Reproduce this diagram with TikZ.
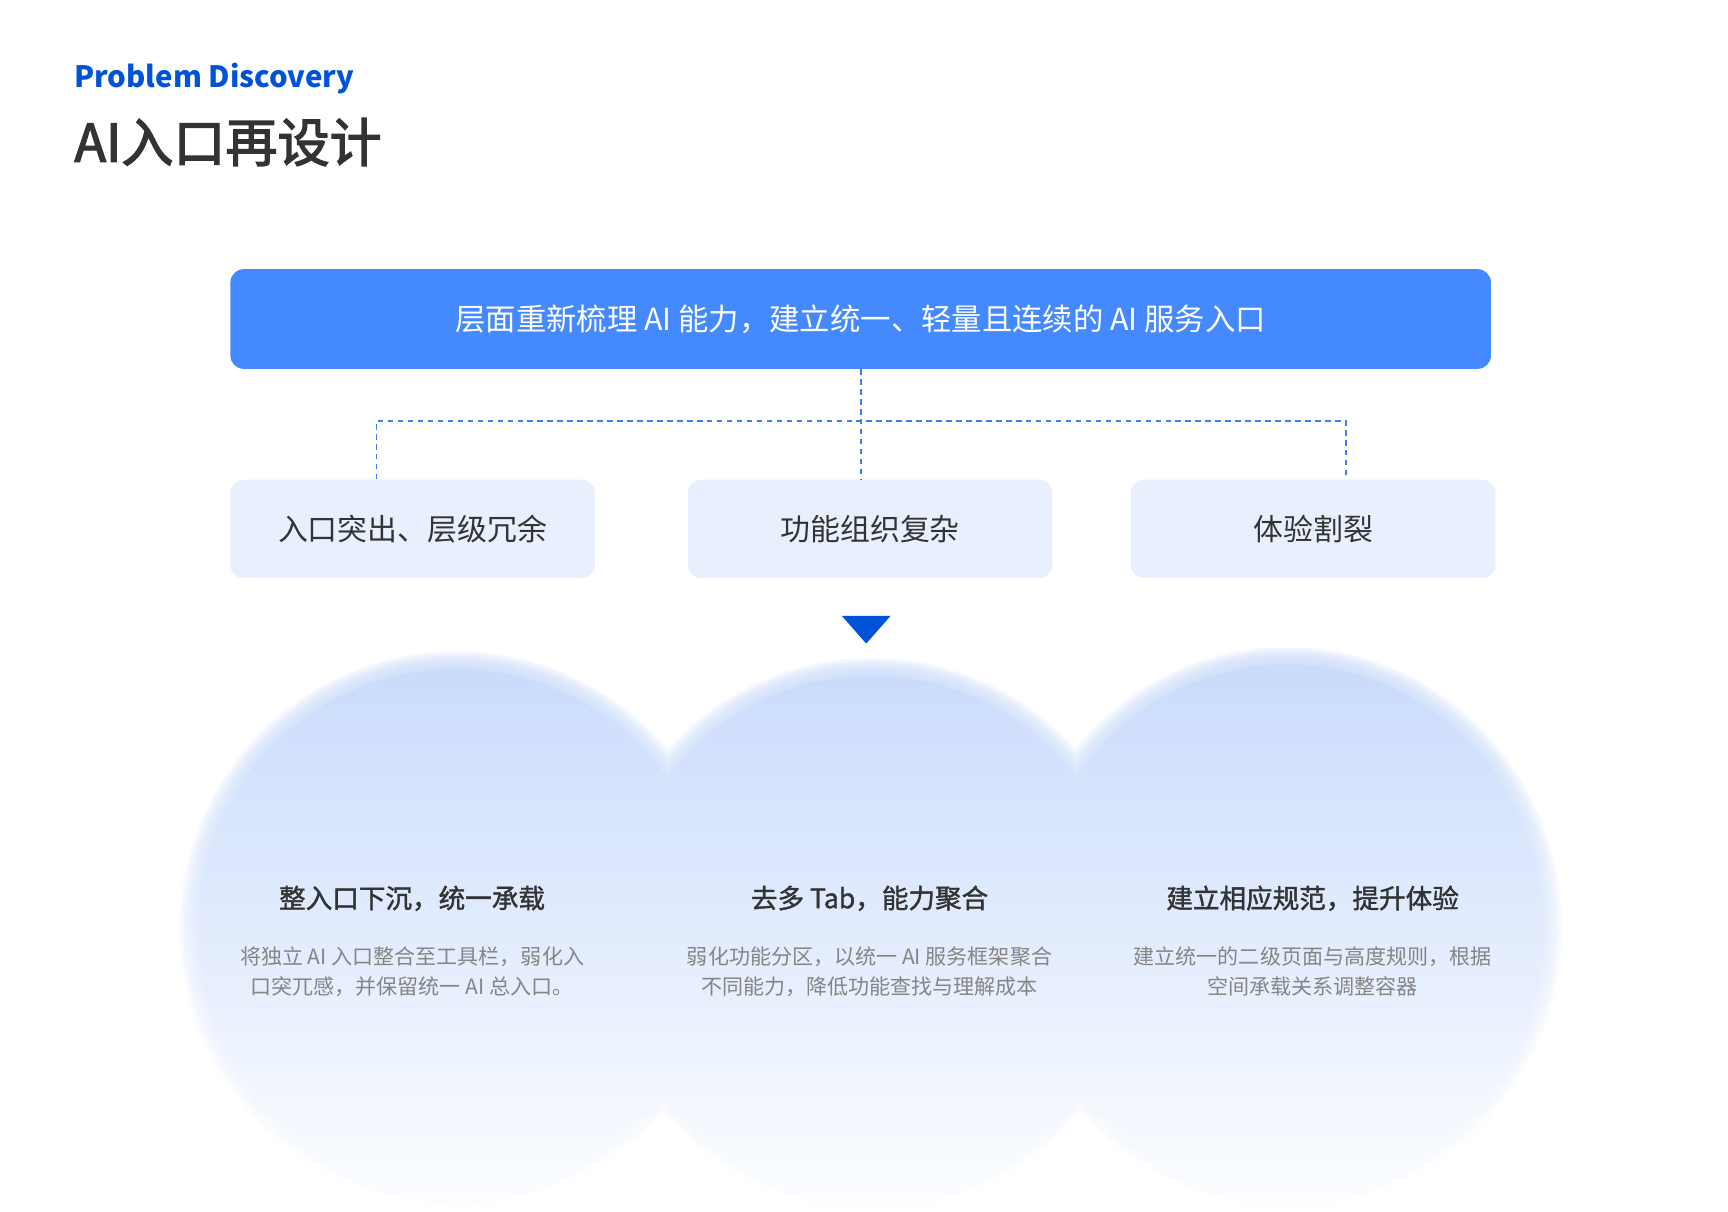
\documentclass[tikz,border=0pt]{standalone}
\usepackage{fontspec}
\setmainfont{Noto Sans CJK SC}
\newfontfamily\midfont{Noto Sans CJK SC}[FakeBold=1.4]
\newfontfamily\bigfont{Noto Sans CJK SC}[FakeBold=2.6]
\usepackage{tikz}
\usetikzlibrary{positioning}
\definecolor{brand}{HTML}{0052D9}
\definecolor{ink}{HTML}{333333}
\definecolor{grey}{HTML}{858585}
\definecolor{barblue}{HTML}{4589FF}
\definecolor{pale}{HTML}{E9F0FD}
\definecolor{linkblue}{HTML}{3D7EEA}
\definecolor{blobtop}{HTML}{C8DAFB}
\definecolor{blobmid}{HTML}{DFE9FD}
\definecolor{blobbot}{HTML}{FDFEFF}
% three overlapping ellipses, grown by #1
\newcommand\blobs[1]{(412,838) ellipse [x radius=242+#1, y radius=242+#1]
  (787,843) ellipse [x radius=240+#1, y radius=241+#1]
  (1162,837) ellipse [x radius=240+#1, y radius=245+#1]}
\tikzset{
  head/.style={text=brand, font=\bfseries\fontsize{26.5}{30}\selectfont, anchor=base west, inner sep=0pt},
  ttl/.style={text=ink, font=\bigfont\fontsize{47}{52}\selectfont, anchor=base west, inner sep=0pt},
  goalbox/.style={fill=barblue, rounded corners=12pt, minimum width=1138pt, minimum height=90pt, text=white, font=\fontsize{27.4}{32}\selectfont},
  probbox/.style={fill=pale, rounded corners=12pt, minimum width=329pt, minimum height=89pt, text=ink, font=\fontsize{27}{32}\selectfont},
  link/.style={draw=linkblue, line width=1.5pt, dash pattern=on 5pt off 4pt},
  tri/.style={fill=brand},
  sol/.style={text=ink, font=\midfont\fontsize{24}{28}\selectfont},
  note/.style={text=grey, font=\fontsize{19}{27}\selectfont, align=center},
  blobfill/.style={top color=blobtop, middle color=blobmid, bottom color=blobbot}
}
\begin{document}
\begin{tikzpicture}[x=1pt, y=-1pt]
  \useasboundingbox[fill=white] (0,0) rectangle (1560,1094);

  % soft blobs
  \foreach \d in {8,6,...,-6}{
    \begin{scope}[opacity=0.18]
      \clip \blobs{\d};
      \shade[blobfill] (140,585) rectangle (1430,1100);
    \end{scope}
  }
  \begin{scope}
    \clip \blobs{-8};
    \shade[blobfill] (140,585) rectangle (1430,1100);
  \end{scope}

  \node[head] (kicker) at (67,79) {Problem Discovery};
  \node[ttl] (title) at (67,146) {AI入口再设计};

  \node[goalbox] (goal) at (777,288) {层面重新梳理 AI 能力，建立统一、轻量且连续的 AI 服务入口};
  \node[probbox] (pa) at (372.5,477.5) {入口突出、层级冗余};
  \node[probbox] (pb) at (785.5,477.5) {功能组织复杂};
  \node[probbox] (pc) at (1185.5,477.5) {体验割裂};

  \coordinate (jl) at (340,380);
  \coordinate (jr) at (1215,380);
  \draw[link] (goal.south) -- (goal.south |- pb.north);
  \draw[link] (jl |- pa.north) -- (jl) -- (jr) -- (jr |- pc.north);

  \fill[tri] (760,556) -- (804,556) -- (782,581) -- cycle;

  \node[sol] (sa) at (372,811) {整入口下沉，统一承载};
  \node[sol] (sb) at (785,811) {去多 Tab，能力聚合};
  \node[sol] (sc) at (1185,811) {建立相应规范，提升体验};
  \node[note] (na) at (372,877) {将独立 AI 入口整合至工具栏，弱化入\\口突兀感，并保留统一 AI 总入口。};
  \node[note] (nb) at (785,877) {弱化功能分区，以统一 AI 服务框架聚合\\不同能力，降低功能查找与理解成本};
  \node[note] (nc) at (1185,877) {建立统一的二级页面与高度规则，根据\\空间承载关系调整容器};
\end{tikzpicture}
\end{document}
